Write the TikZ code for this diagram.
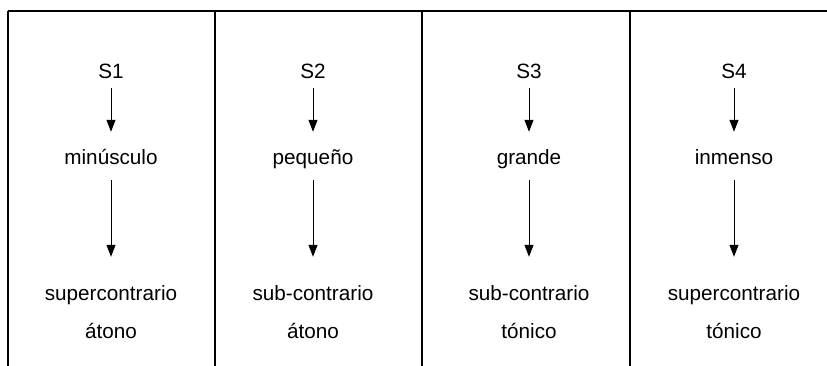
\documentclass[tikz,border=0pt]{standalone}
\usepackage{fontspec}
\setmainfont{Liberation Sans}
\usetikzlibrary{arrows.meta}

\begin{document}
\begin{tikzpicture}[x=1pt,y=-1pt,
        lbl/.style={inner sep=0pt, text height=15pt, text depth=4pt, anchor=base,
            font=\fontsize{20.7}{25}\selectfont},
        rule/.style={black, line width=1.6pt},
        arr/.style={black, line width=1pt, -{Triangle[length=12pt,width=9pt]}},
        upper/.style={shorten <=5pt, shorten >=18pt},
        lower/.style={shorten <=11pt, shorten >=28pt}]
        \useasboundingbox (0,0) rectangle (827,366);
        % table lines
        \draw[rule] (8,11) -- (827,11);
        \draw[rule] (8,11) -- (8,366);
        \draw[rule] (215,11) -- (215,366);
        \draw[rule] (422,11) -- (422,366);
        \draw[rule] (630,11) -- (630,366);
        % column 1
        \node[lbl] (s1) at (111,79) {S1};
        \node[lbl] (m1) at (111,165) {minúsculo};
        \node[lbl] (c1) at (111,300) {supercontrario};
        \node[lbl] (t1) at (111,338) {átono};
        % column 2
        \node[lbl] (s2) at (313,79) {S2};
        \node[lbl] (m2) at (313,165) {pequeño};
        \node[lbl] (c2) at (313,300) {sub-contrario};
        \node[lbl] (t2) at (313,338) {átono};
        % column 3
        \node[lbl] (s3) at (529,79) {S3};
        \node[lbl] (m3) at (529,165) {grande};
        \node[lbl] (c3) at (529,300) {sub-contrario};
        \node[lbl] (t3) at (529,338) {tónico};
        % column 4
        \node[lbl] (s4) at (734,79) {S4};
        \node[lbl] (m4) at (734,165) {inmenso};
        \node[lbl] (c4) at (734,300) {supercontrario};
        \node[lbl] (t4) at (734,338) {tónico};
        % arrows
        \draw[arr, upper] (s1) -- (m1);
        \draw[arr, lower] (m1) -- (c1);
        \draw[arr, upper] (s2) -- (m2);
        \draw[arr, lower] (m2) -- (c2);
        \draw[arr, upper] (s3) -- (m3);
        \draw[arr, lower] (m3) -- (c3);
        \draw[arr, upper] (s4) -- (m4);
        \draw[arr, lower] (m4) -- (c4);
\end{tikzpicture}
\end{document}
